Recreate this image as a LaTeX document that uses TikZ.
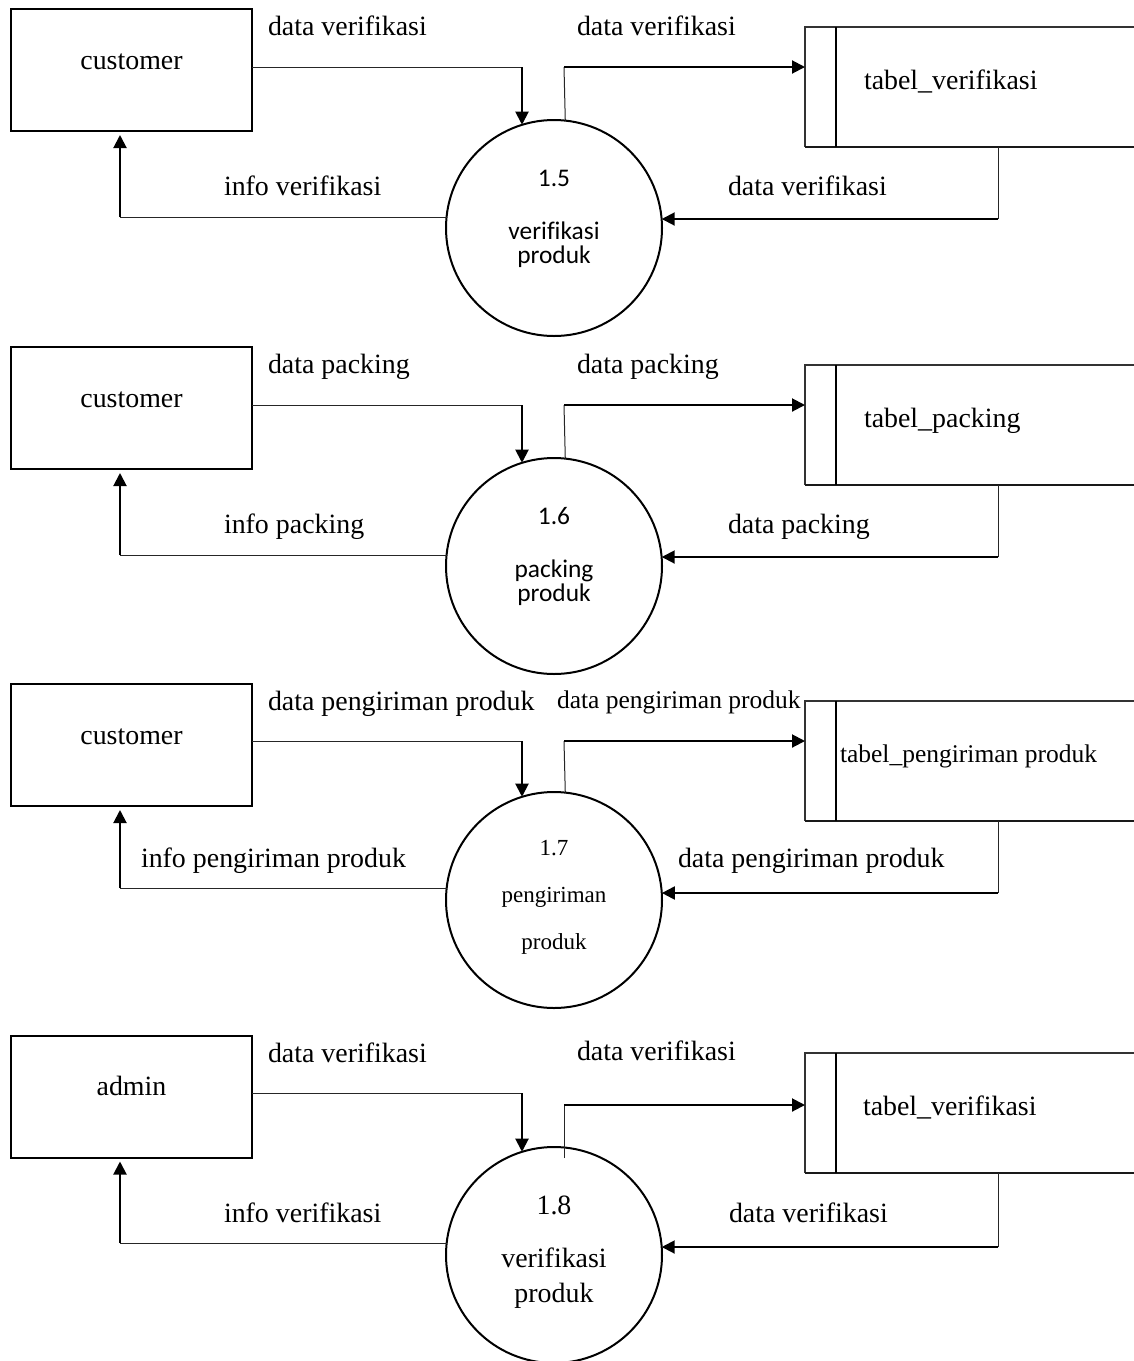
\documentclass[tikz,border=0pt]{standalone}
\usepackage{fontspec}
\setmainfont{Liberation Serif}[Ligatures=CommonOff]
\newfontfamily\procsans{Carlito}[Ligatures=CommonOff]
\usetikzlibrary{arrows.meta}

\newcommand\lblfont{\fontsize{13.95}{16}\selectfont}
\newcommand\smallfont{\fontsize{12.75}{15}\selectfont}

\tikzset{
  ent/.style={draw, line width=1pt, minimum width=120.5pt, minimum height=61pt,
              inner sep=0pt, outer sep=0pt},
  proc/.style={circle, draw, line width=1pt, minimum size=108pt, inner sep=0pt, outer sep=0pt},
  storebox/.style={minimum width=164.5pt, minimum height=60pt, inner sep=0pt, outer sep=0pt},
  storeframe/.style={line width=0.6pt, black!80},
  storebottom/.style={line width=0.9pt, black!90},
  txt/.style={inner sep=0pt, outer sep=0pt, font=\lblfont},
  lbl/.style={txt, anchor=base west},
  ctr/.style={txt, anchor=base},
  thinflow/.style={line width=0.5pt, black!85},
  thickflow/.style={line width=1pt, black},
  flowhead/.style={line width=1pt, black, -{Triangle[length=6.5pt,width=6.5pt]}},
}

% data store: open-ended box with an inner divider
\newcommand\drawstore[1]{%
  \draw[storeframe] (#1.north east) -- (#1.north west) -- (#1.south west);
  \draw[storebottom] (#1.south west) -- (#1.south east);
  \draw[storeframe, line width=0.7pt, black] ([xshift=15.5pt]#1.north west) -- ([xshift=15.5pt]#1.south west);
}

\begin{document}
\begin{tikzpicture}
\useasboundingbox[fill=white] (0,0) rectangle (567pt,-680.5pt);
\begin{scope}[x=0.5pt, y=-0.5pt]

% ---------------- 1.5 verifikasi produk ----------------
\node[ent] (e1) at (131.5,70) {};
\node[ctr] (e1t) at (131.5,69) {customer};
\node[proc] (p1) at (554,228) {};
\node[ctr, font=\procsans\fontsize{12.7}{15}\selectfont] (p1a) at (554,186) {1.5};
\node[ctr, font=\procsans\fontsize{12.7}{15}\selectfont] (p1b) at (554,239) {verifikasi};
\node[ctr, font=\procsans\fontsize{12.7}{15}\selectfont] (p1c) at (554,263) {produk};
\node[storebox] (s1) at (969.5,87) {};
\drawstore{s1}
\node[lbl] (s1t) at (864,89) {tabel\_verifikasi};

\node[lbl] (l1a) at (268,35) {data verifikasi};
\node[lbl] (l1b) at (577,35) {data verifikasi};
\node[lbl] (l1c) at (224,195) {info verifikasi};
\node[lbl] (l1d) at (728,195) {data verifikasi};

\coordinate (i1) at (522,67);
\draw[thinflow] (e1.east |- i1) -- (i1);
\draw[flowhead] (i1) -- (i1 |- p1.107.2);
\coordinate (o1) at (564,67);
\draw[thinflow] (p1.84.7) -- (o1);
\draw[flowhead] (o1) -- (s1.west |- o1);
\coordinate (b1) at (998,219);
\draw[thinflow] (s1.south -| b1) -- (b1);
\draw[flowhead] (b1) -- (b1 -| p1.4.78);
\coordinate (c1) at (120,217);
\draw[thinflow] (p1.174.15 |- c1) -- (c1);
\draw[flowhead, shorten >=2pt] (c1) -- (c1 |- e1.south);

% ---------------- 1.6 packing produk ----------------
\node[ent] (e2) at (131.5,408) {};
\node[ctr] (e2t) at (131.5,407) {customer};
\node[proc] (p2) at (554,566) {};
\node[ctr, font=\procsans\fontsize{12.7}{15}\selectfont] (p2a) at (554,524) {1.6};
\node[ctr, font=\procsans\fontsize{12.7}{15}\selectfont] (p2b) at (554,577) {packing};
\node[ctr, font=\procsans\fontsize{12.7}{15}\selectfont] (p2c) at (554,601) {produk};
\node[storebox] (s2) at (969.5,425) {};
\drawstore{s2}
\node[lbl] (s2t) at (864,427) {tabel\_packing};

\node[lbl] (l2a) at (268,373) {data packing};
\node[lbl] (l2b) at (577,373) {data packing};
\node[lbl] (l2c) at (224,533) {info packing};
\node[lbl] (l2d) at (728,533) {data packing};

\coordinate (i2) at (522,405);
\draw[thinflow] (e2.east |- i2) -- (i2);
\draw[flowhead] (i2) -- (i2 |- p2.107.2);
\coordinate (o2) at (564,405);
\draw[thinflow] (p2.84.7) -- (o2);
\draw[flowhead] (o2) -- (s2.west |- o2);
\coordinate (b2) at (998,557);
\draw[thinflow] (s2.south -| b2) -- (b2);
\draw[flowhead] (b2) -- (b2 -| p2.4.78);
\coordinate (c2) at (120,555);
\draw[thinflow] (p2.174.15 |- c2) -- (c2);
\draw[flowhead, shorten >=2pt] (c2) -- (c2 |- e2.south);

% ---------------- 1.7 pengiriman produk ----------------
\node[ent] (e3) at (131.5,745) {};
\node[ctr] (e3t) at (131.5,744) {customer};
\node[proc] (p3) at (554,900) {};
\node[ctr, font=\fontsize{11.5}{14}\selectfont] (p3a) at (554,855) {1.7};
\node[ctr, font=\fontsize{11.5}{14}\selectfont] (p3b) at (554,902) {pengiriman};
\node[ctr, font=\fontsize{11.5}{14}\selectfont] (p3c) at (554,949) {produk};
\node[storebox] (s3) at (969.5,761) {};
\drawstore{s3}
\node[lbl, font=\smallfont] (s3t) at (840,762) {tabel\_pengiriman produk};

\node[lbl] (l3a) at (268,710) {data pengiriman produk};
\node[lbl, font=\smallfont] (l3b) at (557,708) {data pengiriman produk};
\node[lbl] (l3c) at (141,867) {info pengiriman produk};
\node[lbl] (l3d) at (678,867) {data pengiriman produk};

\coordinate (i3) at (522,741);
\draw[thinflow] (e3.east |- i3) -- (i3);
\draw[flowhead] (i3) -- (i3 |- p3.107.2);
\coordinate (o3) at (564,741);
\draw[thinflow] (p3.84.7) -- (o3);
\draw[flowhead] (o3) -- (s3.west |- o3);
\coordinate (b3) at (998,893);
\draw[thinflow] (s3.south -| b3) -- (b3);
\draw[flowhead] (b3) -- (b3 -| p3.3.72);
\coordinate (c3) at (120,888);
\draw[thinflow] (p3.173.62 |- c3) -- (c3);
\draw[flowhead, shorten >=2pt] (c3) -- (c3 |- e3.south);

% ---------------- 1.8 verifikasi produk (admin) ----------------
\node[ent] (e4) at (131.5,1096.5) {};
\node[ctr] (e4t) at (131.5,1095.5) {admin};
\node[proc] (p4) at (554,1255) {};
\node[ctr] (p4a) at (554,1214) {1.8};
\node[ctr] (p4b) at (554,1267) {verifikasi};
\node[ctr] (p4c) at (554,1302) {produk};
\node[storebox] (s4) at (969.5,1113) {};
\drawstore{s4}
\node[lbl] (s4t) at (863,1115) {tabel\_verifikasi};

\node[lbl] (l4a) at (268,1062) {data verifikasi};
\node[lbl] (l4b) at (577,1060) {data verifikasi};
\node[lbl] (l4c) at (224,1222) {info verifikasi};
\node[lbl] (l4d) at (729,1222) {data verifikasi};

\coordinate (i4) at (522,1093);
\draw[thinflow] (e4.east |- i4) -- (i4);
\draw[flowhead] (i4) -- (i4 |- p4.107.2);
\coordinate (o4) at (564,1105);
\coordinate (o4s) at (564,1158);
\draw[thinflow] (o4s) -- (o4);
\draw[flowhead] (o4) -- (s4.west |- o4);
\coordinate (b4) at (998,1247);
\draw[thinflow] (s4.south -| b4) -- (b4);
\draw[flowhead] (b4) -- (b4 -| p4.4.25);
\coordinate (c4) at (120,1243);
\draw[thinflow] (p4.173.62 |- c4) -- (c4);
\draw[flowhead, shorten >=2pt] (c4) -- (c4 |- e4.south);

\end{scope}
\end{tikzpicture}
\end{document}
